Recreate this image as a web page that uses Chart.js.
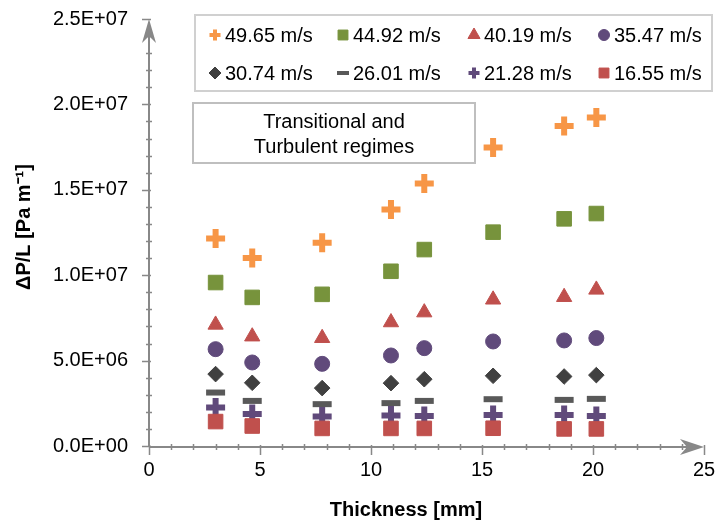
<!DOCTYPE html>
<html>
<head>
<meta charset="utf-8">
<script src="https://cdn.jsdelivr.net/npm/chart.js@4.4.1/dist/chart.umd.min.js"></script>
<style>
html, body { margin: 0; padding: 0; background: #fff; }
#wrap { width: 716px; height: 524px; }
</style>
</head>
<body>
<div id="wrap"><canvas id="chart" width="716" height="524"></canvas></div>
<script>
// thickness of the sample [mm]
const thickness = [3.0, 4.65, 7.8, 10.9, 12.4, 15.5, 18.7, 20.15];

// pressure drop per length, in 1e6 Pa/m, one list per air velocity
const dp4965 = [12.15, 11.0, 11.9, 13.85, 15.37, 17.47, 18.74, 19.23];
const dp4492 = [9.57, 8.70, 8.88, 10.23, 11.50, 12.52, 13.30, 13.61];
const dp4019 = [7.10, 6.41, 6.32, 7.24, 7.82, 8.57, 8.72, 9.15];
const dp3547 = [5.67, 4.89, 4.81, 5.30, 5.73, 6.12, 6.18, 6.32];
const dp3074 = [4.21, 3.70, 3.39, 3.68, 3.91, 4.11, 4.07, 4.15];
const dp2601 = [3.13, 2.64, 2.45, 2.51, 2.64, 2.74, 2.70, 2.76];
const dp2128 = [2.25, 1.88, 1.72, 1.78, 1.76, 1.82, 1.82, 1.76];
const dp1655 = [1.43, 1.17, 1.03, 1.03, 1.03, 1.04, 1.00, 1.00];

const velocityLabels = ['49.65 m/s', '44.92 m/s', '40.19 m/s', '35.47 m/s',
                        '30.74 m/s', '26.01 m/s', '21.28 m/s', '16.55 m/s'];
const seriesValues = [dp4965, dp4492, dp4019, dp3547, dp3074, dp2601, dp2128, dp1655];

const xTicks = [0, 5, 10, 15, 20, 25];
const yTicks = [0, 5e6, 1e7, 1.5e7, 2e7, 2.5e7];

const FONT = "'Liberation Sans', Arial, sans-serif";

// marker look for each series
const styles = [
    { pointStyle: 'cross', color: '#F79646', radius: 9.5, border: 6, lr: 5.5, lb: 4 },
    { pointStyle: 'rect', color: '#77933C', radius: 10.3, border: 1, lr: 7, lb: 1 },
    { pointStyle: 'triangle', color: '#C0504D', radius: 8.8, border: 1, lr: 7, lb: 1 },
    { pointStyle: 'circle', color: '#604A7B', radius: 7.5, border: 1, lr: 5.5, lb: 1 },
    { pointStyle: 'rectRot', color: '#404040', radius: 7.8, border: 1, lr: 6, lb: 1 },
    { pointStyle: 'line', color: '#595959', radius: 9.5, border: 6, lr: 6, lb: 4 },
    { pointStyle: 'cross', color: '#604A7B', radius: 9.5, border: 6, lr: 5.5, lb: 4 },
    { pointStyle: 'rect', color: '#C0504D', radius: 10.3, border: 1, lr: 7, lb: 1 }
];

function sci(v) {
    if (v === 0) return '0.0E+00';
    let e = Math.floor(Math.log10(Math.abs(v)) + 1e-9);
    let m = v / Math.pow(10, e);
    return m.toFixed(1) + 'E' + (e < 0 ? '-' : '+') + String(Math.abs(e)).padStart(2, '0');
}

let datasets = [];
for (let i = 0; i < seriesValues.length; i++) {
    let s = styles[i];
    datasets.push({
        label: velocityLabels[i],
        data: thickness.map((t, j) => ({ x: t, y: seriesValues[i][j] * 1e6 })),
        pointStyle: s.pointStyle,
        pointRadius: s.radius,
        pointHoverRadius: s.radius,
        pointBorderWidth: s.border,
        pointHoverBorderWidth: s.border,
        backgroundColor: s.color,
        borderColor: s.color,
        showLine: false,
        order: seriesValues.length - i,
        legendRadius: s.lr,
        legendBorder: s.lb
    });
}

// axis lines with arrows and major/minor ticks, plus axis titles
const axesPlugin = {
    id: 'axesPlugin',
    beforeDatasetsDraw(chart) {
        const ctx = chart.ctx;
        const xs = chart.scales.x, ys = chart.scales.y;
        const x0 = xs.getPixelForValue(0), x1 = xs.getPixelForValue(25);
        const y0 = ys.getPixelForValue(0), y1 = ys.getPixelForValue(2.5e7);
        ctx.save();
        ctx.strokeStyle = '#888888';
        ctx.fillStyle = '#888888';
        ctx.lineWidth = 2;
        ctx.beginPath();
        ctx.moveTo(x0, y0 + 1); ctx.lineTo(x1 - 8, y0 + 1);
        ctx.moveTo(x0, y0 + 1); ctx.lineTo(x0, y1 + 8);
        ctx.stroke();
        ctx.lineWidth = 1.5;
        ctx.beginPath();
        for (let v = 0; v <= 25; v += 1) {
            let px = Math.round(xs.getPixelForValue(v)) + 0.5;
            if (v % 5 === 0) { ctx.moveTo(px, y0 - 1); ctx.lineTo(px, y0 + 9); }
            else { ctx.moveTo(px, y0 - 2); ctx.lineTo(px, y0 + 4); }
        }
        for (let v = 0; v <= 25; v += 1) {
            let py = Math.round(ys.getPixelForValue(v * 1e6)) + 0.5;
            if (v % 5 === 0) { ctx.moveTo(x0 - 7, py); ctx.lineTo(x0 + 2, py); }
            else { ctx.moveTo(x0 - 3, py); ctx.lineTo(x0 + 3, py); }
        }
        ctx.stroke();
        // arrow heads
        ctx.beginPath();
        ctx.moveTo(x1, y0 + 1);
        ctx.lineTo(x1 - 24, y0 + 1 - 8);
        ctx.lineTo(x1 - 17, y0 + 1);
        ctx.lineTo(x1 - 24, y0 + 1 + 8);
        ctx.closePath();
        ctx.moveTo(x0, y1);
        ctx.lineTo(x0 - 7, y1 + 24);
        ctx.lineTo(x0, y1 + 17);
        ctx.lineTo(x0 + 7, y1 + 24);
        ctx.closePath();
        ctx.fill();

        // axis titles
        ctx.fillStyle = '#000000';
        ctx.font = 'bold 20px ' + FONT;
        ctx.textAlign = 'center';
        ctx.textBaseline = 'middle';
        ctx.fillText('Thickness [mm]', 406, 510);
        ctx.translate(24, 227);
        ctx.rotate(-Math.PI / 2);
        ctx.fillText('ΔP/L [Pa m⁻¹]', 0, 0);
        ctx.restore();
    }
};

// boxed legend and the regime note inside the plot area
const boxesPlugin = {
    id: 'boxesPlugin',
    afterDraw(chart) {
        const ctx = chart.ctx;
        ctx.save();
        ctx.fillStyle = '#ffffff';
        ctx.fillRect(195, 15, 517, 76);
        ctx.strokeStyle = '#d0d0d0';
        ctx.lineWidth = 2;
        ctx.strokeRect(195, 15, 517, 76);
        const colX = [215, 343, 474, 604];
        const rowY = [35, 73];
        chart.data.datasets.forEach((ds, i) => {
            let x = colX[i % 4], y = rowY[Math.floor(i / 4)];
            ctx.fillStyle = ds.backgroundColor;
            ctx.strokeStyle = ds.borderColor;
            ctx.lineWidth = ds.legendBorder;
            Chart.helpers.drawPoint(ctx, {
                pointStyle: ds.pointStyle, radius: ds.legendRadius,
                borderWidth: ds.legendBorder, rotation: 0
            }, x, y);
            ctx.fillStyle = '#000000';
            ctx.font = '20px ' + FONT;
            ctx.textAlign = 'left';
            ctx.textBaseline = 'middle';
            ctx.fillText(ds.label, x + 10, y + 1);
        });

        ctx.strokeStyle = '#bfbfbf';
        ctx.lineWidth = 2;
        ctx.strokeRect(193, 103, 282, 60);
        ctx.fillStyle = '#000000';
        ctx.font = '20px ' + FONT;
        ctx.textAlign = 'center';
        ctx.textBaseline = 'middle';
        ctx.fillText('Transitional and', 334, 122);
        ctx.fillText('Turbulent regimes', 334, 147);
        ctx.restore();
    }
};

new Chart(document.getElementById('chart'), {
    type: 'scatter',
    data: { datasets: datasets },
    plugins: [axesPlugin, boxesPlugin],
    options: {
        responsive: false,
        animation: false,
        devicePixelRatio: 1,
        layout: { autoPadding: false, padding: { top: 19, right: 12, left: 0, bottom: 0 } },
        plugins: { legend: { display: false }, tooltip: { enabled: false } },
        scales: {
            x: {
                type: 'linear',
                min: 0, max: 25,
                afterFit: (scale) => {
                    scale.height = 78;
                    scale.paddingLeft = 0; scale.paddingRight = 0;
                    scale.paddingTop = 0; scale.paddingBottom = 0;
                },
                afterBuildTicks: (scale) => { scale.ticks = xTicks.map(v => ({ value: v })); },
                grid: { display: false, drawTicks: false },
                border: { display: false },
                ticks: { color: '#000', font: { family: FONT, size: 20 }, padding: 12 },
                title: { display: false }
            },
            y: {
                type: 'linear',
                min: 0, max: 2.5e7,
                afterFit: (scale) => {
                    scale.width = 149;
                    scale.paddingLeft = 0; scale.paddingRight = 0;
                    scale.paddingTop = 0; scale.paddingBottom = 0;
                },
                afterBuildTicks: (scale) => { scale.ticks = yTicks.map(v => ({ value: v })); },
                grid: { display: false, drawTicks: false },
                border: { display: false },
                ticks: { color: '#000', font: { family: FONT, size: 20 }, padding: 21, callback: (v) => sci(v) },
                title: { display: false }
            }
        }
    }
});
</script>
</body>
</html>
